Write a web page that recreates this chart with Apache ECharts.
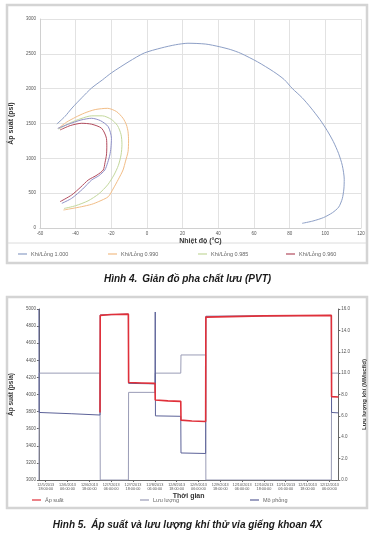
<!DOCTYPE html>
<html><head><meta charset="utf-8">
<script src="https://cdn.jsdelivr.net/npm/echarts@6/dist/echarts.min.js"></script>
<style>html,body{margin:0;padding:0;background:#fff}#c{width:375px;height:537px}</style>
</head><body><div id="c"></div>
<script>
// ---------- Figure 4: PVT phase envelopes (temperature °C, pressure psi)
const curve1000 = [[-50.5,1493],[-46,1600],[-42,1722],[-36.5,1870],[-31,2010],[-25,2125],[-20,2225],[-10,2390],[-1.5,2512],[8,2584],[16,2630],[23,2652],[33,2640],[40.5,2603],[47,2560],[52.6,2507],[62,2385],[71,2244],[77,2130],[81.4,2005],[87,1870],[92,1722],[97,1555],[101,1400],[104.5,1240],[107.4,1072],[109.5,900],[110.6,700],[110.4,560],[109.5,420],[107.5,300],[104,220],[99,150],[93,100],[87,67]];
const curve0990 = [[-49.6,1431],[-45,1520],[-40,1590],[-35,1650],[-29,1700],[-22,1718],[-17,1670],[-13.4,1575],[-11.5,1480],[-10.6,1382],[-10.3,1250],[-10.6,1095],[-12,960],[-13.4,833],[-16,700],[-19,560],[-21.7,449],[-27,380],[-31,340],[-36.6,306],[-42,280],[-46.8,258]];
const curve0985 = [[-49.5,1420],[-43,1510],[-37,1570],[-31,1610],[-25,1610],[-20,1560],[-16.5,1470],[-14.5,1340],[-14,1200],[-14.5,1050],[-16,900],[-18.5,760],[-22,620],[-27,490],[-33,390],[-40,320],[-46.5,280]];
const curveMid = [[-50,1430],[-44,1490],[-37,1550],[-31,1575],[-26,1540],[-21.7,1454],[-19.9,1287],[-20.2,1150],[-20.8,1048],[-22,940],[-23.6,833],[-27,750],[-31,689],[-36,560],[-42.2,426],[-47.7,354]];
const curve0960 = [[-48.7,1407],[-43,1470],[-36.6,1503],[-31,1490],[-25.4,1431],[-22.7,1287],[-22.5,1160],[-22.7,1048],[-23.5,940],[-24.5,833],[-28,760],[-32.9,689],[-37,590],[-42.2,474],[-48.7,378]];
const pvtNames = ['Khí/Lỏng 1.000','Khí/Lỏng 0.990','Khí/Lỏng 0.985','Khí/Lỏng 0.960'];

// ---------- Figure 5: well test (time in label steps, pressure psia, rate MMscf/d)
const timeLabels = ['12/5/2013\n18:00:00','12/6/2013\n06:00:00','12/6/2013\n18:00:00','12/7/2013\n06:00:00','12/7/2013\n18:00:00','12/8/2013\n06:00:00','12/8/2013\n18:00:00','12/9/2013\n06:00:00','12/9/2013\n18:00:00','12/10/2013\n06:00:00','12/10/2013\n18:00:00','12/11/2013\n06:00:00','12/11/2013\n18:00:00','12/12/2013\n06:00:00'];
const timeTicks = [0,1,2,3,4,5,6,7,8,9,10,11,12,13];
const pressMeasured = [[2.49,3790],[2.50,4925],[3.0,4935],[3.79,4940],[3.80,4140],[4.4,4135],[5.01,4130],[5.02,3935],[5.6,3925],[6.19,3920],[6.20,3700],[6.7,3690],[7.33,3685],[7.34,4905],[10,4920],[13.09,4925],[13.10,3975],[13.41,3970]];
const rateData = [[-0.31,0],[-0.30,10.0],[2.49,10.0],[2.50,0],[3.79,0],[3.80,8.2],[5.01,8.2],[5.02,10.0],[6.19,10.0],[6.20,11.7],[7.33,11.7],[7.34,0],[13.09,0],[13.10,10.0],[13.41,10.0]];
const pressSim = [[-0.31,5000],[-0.30,3790],[1.2,3775],[2.49,3760],[2.50,4930],[3.79,4940],[3.80,4130],[5.01,4125],[5.02,4965],[5.03,3750],[6.19,3745],[6.20,3316],[7.33,3310],[7.34,4915],[13.09,4925],[13.10,3790],[13.41,3785]];

const FF = "'Liberation Sans Narrow','Liberation Sans',Roboto,sans-serif";
const chart = echarts.init(document.getElementById('c'), null, {renderer:'canvas'});
const tick = {fontSize:4.5, color:'#555', fontFamily:FF};
function lg(name, left, top){
  return {data:[name], left, top, icon:'rect', itemWidth:9, itemHeight:1.2, itemGap:0,
    textStyle:{fontSize:5.5, color:'#666', fontFamily:FF, padding:[0,0,0,-1]}, selectedMode:false};
}
const option = {
  animation:false,
  backgroundColor:'#fff',
  title:[
    {text:'{b|Hình 4.} {i|Giản đồ pha chất lưu (PVT)}', left:'center', top:265,
     textStyle:{rich:{b:{fontWeight:'bold',fontStyle:'italic',fontSize:10,fontFamily:FF,color:'#1a1a1a'},
                      i:{fontStyle:'italic',fontSize:10,fontFamily:FF,color:'#1a1a1a'}}}},
    {text:'{b|Hình 5.} {i|Áp suất và lưu lượng khí thử vỉa giếng khoan 4X}', left:'center', top:511,
     textStyle:{rich:{b:{fontWeight:'bold',fontStyle:'italic',fontSize:10,fontFamily:FF,color:'#1a1a1a'},
                      i:{fontStyle:'italic',fontSize:10,fontFamily:FF,color:'#1a1a1a'}}}}
  ],
  graphic:[
    {type:'rect', shape:{x:7,y:5,width:360,height:258}, style:{fill:'none', stroke:'#d4d4d4', lineWidth:2.5}, z:-1},
    {type:'line', shape:{x1:8,y1:243,x2:366,y2:243}, style:{stroke:'#dcdcdc', lineWidth:1}},
    {type:'rect', shape:{x:7,y:297,width:360,height:211}, style:{fill:'none', stroke:'#d4d4d4', lineWidth:2.5}, z:-1}
  ],
  legend:[
    lg(pvtNames[0],13,246), lg(pvtNames[1],103,246), lg(pvtNames[2],193,246), lg(pvtNames[3],281,246),
    lg('Áp suất',27,492), lg('Lưu lượng',135,492), lg('Mô phỏng',245,492)
  ],
  grid:[
    {left:38,right:14,top:19,bottom:309},
    {left:33,right:28,top:309,bottom:57}
  ],
  xAxis:[
    {gridIndex:0,type:'value',min:-60,max:120,interval:20,
     name:'Nhiệt độ (°C)',nameLocation:'middle',nameGap:10,
     nameTextStyle:{fontSize:7,fontWeight:'bold',color:'#333',fontFamily:FF},
     axisLine:{show:true,onZero:false,lineStyle:{color:'#d0d0d0'}},axisTick:{show:false},
     axisLabel:Object.assign({margin:3},tick),
     splitLine:{show:true,lineStyle:{color:'#e2e2e2',width:1}}},
    {gridIndex:1,type:'value',min:-0.31,max:13.41,
     name:'Thời gian',nameLocation:'middle',nameGap:9,
     nameTextStyle:{fontSize:7,fontWeight:'bold',color:'#333',fontFamily:FF},
     axisLine:{show:true,onZero:false,lineStyle:{color:'#666'}},
     axisTick:{show:true,customValues:timeTicks,length:2,lineStyle:{color:'#666'}},
     axisLabel:{customValues:timeTicks,formatter:v=>timeLabels[Math.round(v)],fontSize:3.8,lineHeight:4.2,color:'#555',fontFamily:FF,margin:3},
     splitLine:{show:false}}
  ],
  yAxis:[
    {gridIndex:0,type:'value',min:0,max:3000,interval:500,
     name:'Áp suất (psi)',nameLocation:'middle',nameGap:20,nameRotate:90,
     nameTextStyle:{fontSize:7,fontWeight:'bold',color:'#333',fontFamily:FF},
     axisLine:{show:true,onZero:false,lineStyle:{color:'#d0d0d0'}},axisTick:{show:false},
     axisLabel:Object.assign({margin:4,formatter:v=>String(v)},tick),
     splitLine:{show:true,lineStyle:{color:'#e2e2e2',width:1}}},
    {gridIndex:1,type:'value',min:3000,max:5000,interval:200,
     name:'Áp suất (psia)',nameLocation:'middle',nameGap:20,nameRotate:90,
     nameTextStyle:{fontSize:6.5,fontWeight:'bold',color:'#333',fontFamily:FF},
     axisLine:{show:true,onZero:false,lineStyle:{color:'#666'}},axisTick:{show:true,length:2,lineStyle:{color:'#666'}},
     axisLabel:Object.assign({margin:3,formatter:v=>String(v)},tick),
     splitLine:{show:false}},
    {gridIndex:1,type:'value',position:'right',min:0,max:16,interval:2,
     name:'Lưu lượng khí (MMscf/d)',nameLocation:'middle',nameGap:13,nameRotate:90,
     nameTextStyle:{fontSize:6,fontWeight:'bold',color:'#333',fontFamily:FF},
     axisLine:{show:true,onZero:false,lineStyle:{color:'#666'}},axisTick:{show:true,length:2,lineStyle:{color:'#666'}},
     axisLabel:Object.assign({margin:3,formatter:v=>v.toFixed(1)},tick),
     splitLine:{show:false}}
  ],
  series:[
    {name:pvtNames[0],type:'line',xAxisIndex:0,yAxisIndex:0,data:curve1000,smooth:0.25,showSymbol:false,lineStyle:{width:1,color:'#8d9fc6'},itemStyle:{color:'#8d9fc6'}},
    {name:pvtNames[1],type:'line',xAxisIndex:0,yAxisIndex:0,data:curve0990,smooth:0.25,showSymbol:false,lineStyle:{width:1,color:'#f2bd86'},itemStyle:{color:'#f2bd86'}},
    {name:pvtNames[2],type:'line',xAxisIndex:0,yAxisIndex:0,data:curve0985,smooth:0.25,showSymbol:false,lineStyle:{width:1,color:'#c3d89c'},itemStyle:{color:'#c3d89c'}},
    {name:'',type:'line',xAxisIndex:0,yAxisIndex:0,data:curveMid,smooth:0.25,showSymbol:false,lineStyle:{width:1,color:'#8f90c8'}},
    {name:pvtNames[3],type:'line',xAxisIndex:0,yAxisIndex:0,data:curve0960,smooth:0.25,showSymbol:false,lineStyle:{width:1,color:'#b24c5e'},itemStyle:{color:'#b24c5e'}},
    {name:'Lưu lượng',type:'line',xAxisIndex:1,yAxisIndex:2,data:rateData,showSymbol:false,lineStyle:{width:1,color:'#9a9cb6'},itemStyle:{color:'#9a9cb6'},z:2},
    {name:'Mô phỏng',type:'line',xAxisIndex:1,yAxisIndex:1,data:pressSim,showSymbol:false,lineStyle:{width:1,color:'#5c6298'},itemStyle:{color:'#5c6298'},z:3},
    {name:'Áp suất',type:'line',xAxisIndex:1,yAxisIndex:1,data:pressMeasured,showSymbol:false,lineStyle:{width:1.6,color:'#e0303a'},itemStyle:{color:'#e0303a'},z:4}
  ]
};
chart.setOption(option);
</script></body></html>
